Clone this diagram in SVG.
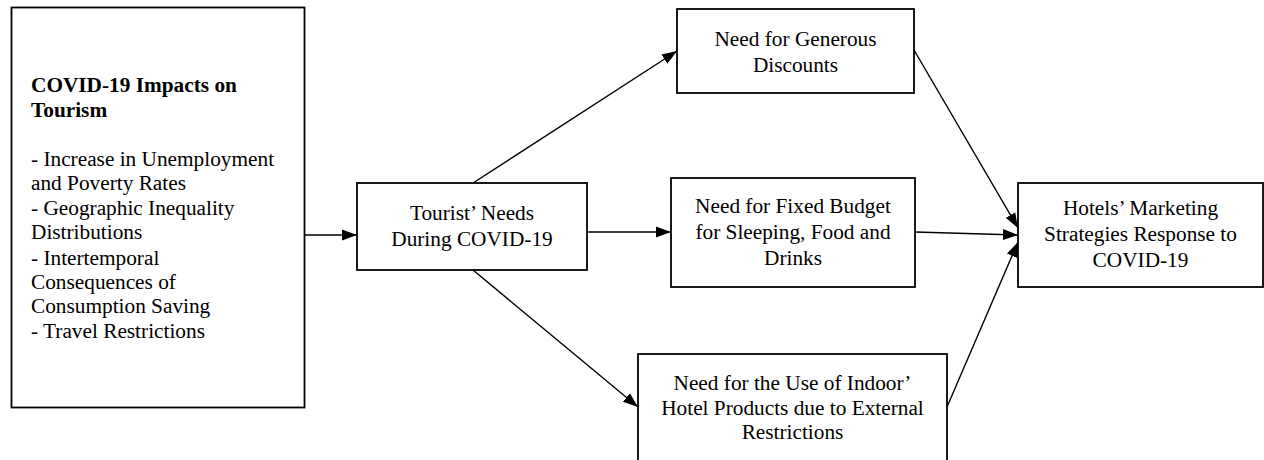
<svg xmlns="http://www.w3.org/2000/svg" width="1264" height="460" viewBox="0 0 1264 460">
<style>
.box{fill:#fff;stroke:#000;stroke-width:1.8}
.t{font-family:"Liberation Serif","Times New Roman",serif;font-size:21.3px;fill:#000}
.c{text-anchor:middle}
.b{font-weight:bold}
.edge{stroke:#000;stroke-width:1.4;fill:none;marker-end:url(#arr)}
</style>
<defs>
<marker id="arr" markerUnits="userSpaceOnUse" markerWidth="16" markerHeight="12" refX="15" refY="6" orient="auto">
<path d="M0,0.5 L15,6 L0,11.5 z" fill="#000"/>
</marker>
</defs>
<rect width="1264" height="460" fill="#fff"/>
<g id="connectors">
<line class="edge" x1="305" y1="235" x2="357" y2="235"/>
<line class="edge" x1="473" y1="183" x2="677" y2="51"/>
<line class="edge" x1="587" y1="232" x2="671" y2="232"/>
<line class="edge" x1="473" y1="270" x2="638" y2="407"/>
<line class="edge" x1="914" y1="50" x2="1018" y2="228"/>
<line class="edge" x1="915" y1="232" x2="1018" y2="235"/>
<line class="edge" x1="947" y1="407" x2="1018" y2="242"/>
</g>
<g id="impacts">
<rect class="box" x="11.5" y="7.5" width="293" height="400"/>
<text class="t b" x="31" y="92">COVID-19 Impacts on</text>
<text class="t b" x="31" y="117">Tourism</text>
<text class="t" x="31" y="166">- Increase in Unemployment</text>
<text class="t" x="31" y="190">and Poverty Rates</text>
<text class="t" x="31" y="215">- Geographic Inequality</text>
<text class="t" x="31" y="239">Distributions</text>
<text class="t" x="31" y="265">- Intertemporal</text>
<text class="t" x="31" y="289">Consequences of</text>
<text class="t" x="31" y="313">Consumption Saving</text>
<text class="t" x="31" y="338">- Travel Restrictions</text>
</g>
<g id="needs">
<rect class="box" x="357" y="183" width="230" height="87"/>
<text class="t c" x="472" y="220">Tourist’ Needs</text>
<text class="t c" x="472" y="246">During COVID-19</text>
</g>
<g id="discounts">
<rect class="box" x="677" y="9" width="237" height="84"/>
<text class="t c" x="795.5" y="46">Need for Generous</text>
<text class="t c" x="795.5" y="72">Discounts</text>
</g>
<g id="budget">
<rect class="box" x="671" y="178" width="244" height="109"/>
<text class="t c" x="793" y="213">Need for Fixed Budget</text>
<text class="t c" x="793" y="239">for Sleeping, Food and</text>
<text class="t c" x="793" y="265">Drinks</text>
</g>
<g id="indoor">
<rect class="box" x="638" y="354" width="309" height="120"/>
<text class="t c" x="792.5" y="390">Need for the Use of Indoor’</text>
<text class="t c" x="792.5" y="415">Hotel Products due to External</text>
<text class="t c" x="792.5" y="439">Restrictions</text>
</g>
<g id="hotels">
<rect class="box" x="1018" y="183" width="245" height="104"/>
<text class="t c" x="1140.5" y="215">Hotels’ Marketing</text>
<text class="t c" x="1140.5" y="241">Strategies Response to</text>
<text class="t c" x="1140.5" y="267">COVID-19</text>
</g>
</svg>
